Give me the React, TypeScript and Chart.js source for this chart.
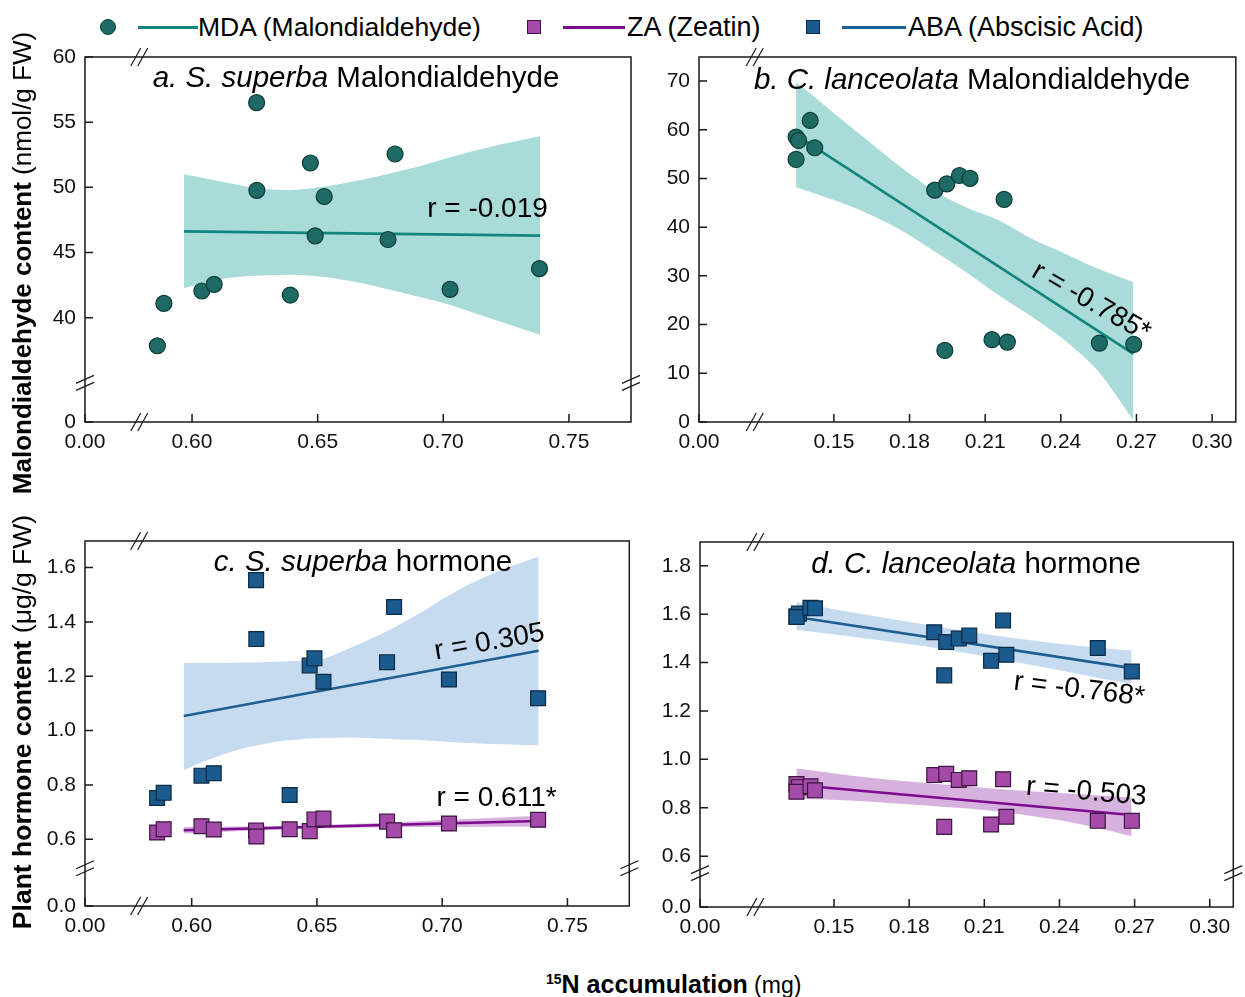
import React, { useEffect, useRef } from 'react';
import { Chart, registerables } from 'chart.js';
Chart.register(...registerables);

const FONT = "'Liberation Sans', Arial, Helvetica, sans-serif";

// ---------------- data ----------------
// S. superba: 15N accumulation (mg) and responses
const ssN15 = [0.5862, 0.5888, 0.6039, 0.6088, 0.6257, 0.6258, 0.6391, 0.6471, 0.649, 0.6526, 0.678, 0.6808, 0.7027, 0.7383];
const ssMDA = [37.85, 41.1, 42.05, 42.56, 56.5, 49.77, 41.74, 51.87, 46.28, 49.3, 46.0, 52.56, 42.18, 43.77];
const ssABA = [0.752, 0.771, 0.834, 0.843, 1.554, 1.337, 0.763, 1.24, 1.266, 1.18, 1.252, 1.455, 1.188, 1.119];
const ssZA = [0.625, 0.637, 0.648, 0.636, 0.632, 0.61, 0.637, 0.63, 0.673, 0.676, 0.665, 0.633, 0.658, 0.672];

// C. lanceolata
const clN15 = [0.135, 0.136, 0.135, 0.1406, 0.1424, 0.19, 0.1948, 0.1998, 0.204, 0.2175, 0.194, 0.2127, 0.2188, 0.2553, 0.2689];
const clMDA = [58.5, 57.8, 53.9, 61.9, 56.3, 47.6, 48.9, 50.6, 50.0, 45.7, 14.7, 16.9, 16.4, 16.2, 15.95];
const clABA = [1.591, 1.602, 1.588, 1.626, 1.624, 1.525, 1.485, 1.499, 1.512, 1.574, 1.347, 1.407, 1.432, 1.46, 1.363];
const clZA = [0.898, 0.885, 0.866, 0.889, 0.872, 0.935, 0.94, 0.915, 0.922, 0.918, 0.721, 0.731, 0.763, 0.746, 0.746];

// fitted lines
const ssMDAFitX = [0.5968, 0.7385];
const ssMDAFitY = [46.62, 46.3];
const clMDAFitX = [0.135, 0.2688];
const clMDAFitY = [58.9, 14.0];
const ssABAFitX = [0.5968, 0.7385];
const ssABAFitY = [1.054, 1.294];
const ssZAFitX = [0.5968, 0.7385];
const ssZAFitY = [0.633, 0.667];
const clABAFitX = [0.135, 0.2688];
const clABAFitY = [1.588, 1.377];
const clZAFitX = [0.135, 0.2688];
const clZAFitY = [0.894, 0.77];

// confidence bands
const ssMDABandX = [0.5968, 0.613, 0.6293, 0.639, 0.6536, 0.6699, 0.6861, 0.7024, 0.7186, 0.7385];
const ssMDABandHi = [51.0, 50.4, 49.85, 49.8, 50.08, 50.67, 51.4, 52.3, 53.1, 53.92];
const ssMDABandLo = [42.28, 43.0, 43.25, 43.3, 43.1, 42.55, 41.8, 41.0, 39.95, 38.7];

const clMDABandX = [0.135, 0.1503, 0.1634, 0.1764, 0.1894, 0.2024, 0.2154, 0.2285, 0.2415, 0.2545, 0.2688];
const clMDABandHi = [69.8, 63.3, 57.8, 52.4, 47.6, 44.1, 41.4, 37.6, 34.6, 31.5, 28.7];
const clMDABandLo = [48.2, 45.5, 42.8, 39.4, 35.2, 30.8, 26.0, 21.6, 16.8, 10.6, 0.3];

const ssABABandX = [0.5968, 0.6045, 0.6178, 0.6244, 0.6311, 0.6443, 0.6496, 0.6642, 0.6775, 0.6908, 0.704, 0.7173, 0.7306, 0.7385];
const ssABABandHi = [1.249, 1.249, 1.25, 1.251, 1.253, 1.257, 1.259, 1.308, 1.364, 1.431, 1.505, 1.566, 1.615, 1.64];
const ssABABandLo = [0.854, 0.885, 0.928, 0.942, 0.955, 0.969, 0.972, 0.975, 0.97, 0.965, 0.957, 0.952, 0.948, 0.946];

const ssZABandX = [0.5968, 0.62, 0.64, 0.66, 0.68, 0.7, 0.7385];
const ssZABandHi = [0.645, 0.647, 0.65, 0.655, 0.662, 0.671, 0.687];
const ssZABandLo = [0.621, 0.63, 0.637, 0.641, 0.644, 0.645, 0.647];

const clABABandX = [0.135, 0.1634, 0.1894, 0.2154, 0.2415, 0.2545, 0.2688];
const clABABandHi = [1.649, 1.596, 1.552, 1.51, 1.476, 1.462, 1.45];
const clABABandLo = [1.535, 1.498, 1.462, 1.416, 1.365, 1.338, 1.312];

const clZABandX = [0.135, 0.1634, 0.1894, 0.2154, 0.2415, 0.2545, 0.2688];
const clZABandHi = [0.962, 0.925, 0.9, 0.878, 0.86, 0.852, 0.842];
const clZABandLo = [0.838, 0.826, 0.807, 0.785, 0.746, 0.718, 0.682];

// tick labels
const ssXTicks = [0, 0.6, 0.65, 0.7, 0.75];
const ssXLabels = ['0.00', '0.60', '0.65', '0.70', '0.75'];
const clXTicks = [0, 0.15, 0.18, 0.21, 0.24, 0.27, 0.3];
const clXLabels = ['0.00', '0.15', '0.18', '0.21', '0.24', '0.27', '0.30'];
const aYTicks = [0, 40, 45, 50, 55, 60];
const aYLabels = ['0', '40', '45', '50', '55', '60'];
const bYTicks = [0, 10, 20, 30, 40, 50, 60, 70];
const bYLabels = ['0', '10', '20', '30', '40', '50', '60', '70'];
const cYTicks = [0, 0.6, 0.8, 1.0, 1.2, 1.4, 1.6];
const cYLabels = ['0.0', '0.6', '0.8', '1.0', '1.2', '1.4', '1.6'];
const dYTicks = [0, 0.6, 0.8, 1.0, 1.2, 1.4, 1.6, 1.8];
const dYLabels = ['0.0', '0.6', '0.8', '1.0', '1.2', '1.4', '1.6', '1.8'];

// ---------------- styles ----------------
const STYLE: any = {
  MDA: { pointStyle: 'circle', r: 8, fill: '#1d6b64', edge: '#0c3b37', line: '#12857f', band: '#a9dcd9' },
  ABA: { pointStyle: 'rect', r: 10.5, fill: '#1b5a8c', edge: '#0b2a45', line: '#1d5f92', band: '#c6daf0' },
  ZA: { pointStyle: 'rect', r: 10.5, fill: '#a44ba9', edge: '#3b1540', line: '#7c0b8d', band: '#d8b2df' },
};

// broken axis: values above the break are shifted down by `shift`
const fx = (ax: any, v: number) => (v === 0 ? 0 : v - ax.shift);

const YW = 60;
const XH = 44;
const TOPPAD = 14;

function Panel({ cfg }: { cfg: any }) {
  const ref = useRef<HTMLCanvasElement>(null);
  const { area, rightPad } = cfg;
  const W = area.r - area.l + YW + rightPad;
  const H = area.b - area.t + TOPPAD + XH;

  useEffect(() => {
    const ax = cfg.xAxis;
    const ay = cfg.yAxis;
    const pts = (xs: number[], ys: number[]) => xs.map((x, i) => ({ x: fx(ax, x), y: fx(ay, ys[i]) }));
    const datasets: any[] = [];
    cfg.series.forEach((s: any) => {
      const st = STYLE[s.kind];
      datasets.push({
        data: pts(s.x, s.y),
        showLine: false,
        pointStyle: st.pointStyle,
        pointRadius: st.r,
        pointBackgroundColor: st.fill,
        pointBorderColor: st.edge,
        pointBorderWidth: 1.2,
      });
    });
    cfg.series.forEach((s: any) => {
      const st = STYLE[s.kind];
      datasets.push({
        data: pts(s.fitX, s.fitY),
        borderColor: st.line,
        borderWidth: 2.6,
        pointRadius: 0,
        tension: 0,
        fill: false,
      });
    });
    cfg.series.forEach((s: any) => {
      const st = STYLE[s.kind];
      datasets.push({
        data: pts(s.bandX, s.bandHi),
        borderWidth: 0,
        borderColor: 'rgba(0,0,0,0)',
        pointRadius: 0,
        cubicInterpolationMode: 'monotone',
        backgroundColor: st.band,
        fill: '+1',
      });
      datasets.push({
        data: pts(s.bandX, s.bandLo),
        borderWidth: 0,
        borderColor: 'rgba(0,0,0,0)',
        pointRadius: 0,
        cubicInterpolationMode: 'monotone',
        fill: false,
      });
    });

    const decor = {
      id: 'decor',
      afterDatasetsDraw(chart: any) {
        const ctx = chart.ctx;
        const ca = chart.chartArea;
        const xs = chart.scales.x;
        const ys = chart.scales.y;
        ctx.save();
        // inner ticks
        ctx.strokeStyle = '#1a1a1a';
        ctx.lineWidth = 1.5;
        ctx.beginPath();
        xs.ticks.forEach((t: any) => {
          const p = xs.getPixelForValue(t.value);
          ctx.moveTo(p, ca.bottom);
          ctx.lineTo(p, ca.bottom - 8);
        });
        ys.ticks.forEach((t: any) => {
          const p = ys.getPixelForValue(t.value);
          ctx.moveTo(ca.left, p);
          ctx.lineTo(ca.left + 8, p);
        });
        ctx.stroke();
        // frame
        ctx.strokeRect(ca.left, ca.top, ca.right - ca.left, ca.bottom - ca.top);
        // break marks
        ctx.lineWidth = 1.2;
        ctx.beginPath();
        if (ax.brk !== undefined) {
          const bx = xs.getPixelForValue(fx(ax, ax.brk));
          [ca.bottom, ca.top].forEach((yy: number) => {
            [-3.5, 3.5].forEach((d) => {
              ctx.moveTo(bx + d - 5, yy + 9);
              ctx.lineTo(bx + d + 5, yy - 9);
            });
          });
        }
        if (ay.brk !== undefined) {
          const by = ys.getPixelForValue(fx(ay, ay.brk));
          [ca.left, ca.right].forEach((xx: number) => {
            [-3.5, 3.5].forEach((d) => {
              ctx.moveTo(xx - 9, by + d + 4);
              ctx.lineTo(xx + 9, by + d - 4);
            });
          });
        }
        ctx.stroke();
        // r annotations
        ctx.fillStyle = '#000';
        ctx.font = `28px ${FONT}`;
        ctx.textAlign = 'center';
        ctx.textBaseline = 'middle';
        cfg.notes.forEach((n: any) => {
          ctx.save();
          ctx.translate(xs.getPixelForValue(fx(ax, n.x)), ys.getPixelForValue(fx(ay, n.y)));
          ctx.rotate((n.rot * Math.PI) / 180);
          ctx.fillText(n.text, 0, 0);
          ctx.restore();
        });
        ctx.restore();
      },
    };

    const tickFont = { family: FONT, size: 21 };
    const chart = new Chart(ref.current as HTMLCanvasElement, {
      type: 'line',
      data: { datasets },
      options: {
        animation: false,
        responsive: false,
        maintainAspectRatio: false,
        devicePixelRatio: 1,
        layout: { padding: { top: TOPPAD, right: rightPad, left: 0, bottom: 0 } },
        plugins: { legend: { display: false }, tooltip: { enabled: false }, title: { display: false } },
        scales: {
          x: {
            type: 'linear',
            min: 0,
            max: fx(ax, ax.max),
            afterBuildTicks: (s: any) => {
              s.ticks = ax.ticks.map((v: number) => ({ value: fx(ax, v) }));
            },
            afterFit: (s: any) => {
              s.height = XH;
              s.paddingLeft = 0;
              s.paddingRight = 0;
              s.paddingTop = 0;
              s.paddingBottom = 0;
            },
            ticks: {
              callback: (_v: any, i: number) => ax.labels[i],
              font: tickFont,
              color: '#111',
              padding: 8,
              maxRotation: 0,
              minRotation: 0,
              autoSkip: false,
            },
            grid: { display: false, drawTicks: false },
            border: { display: false },
          },
          y: {
            type: 'linear',
            min: 0,
            max: fx(ay, ay.max),
            afterBuildTicks: (s: any) => {
              s.ticks = ay.ticks.map((v: number) => ({ value: fx(ay, v) }));
            },
            afterFit: (s: any) => {
              s.width = YW;
              s.paddingLeft = 0;
              s.paddingRight = 0;
              s.paddingTop = 0;
              s.paddingBottom = 0;
            },
            ticks: {
              callback: (_v: any, i: number) => ay.labels[i],
              font: tickFont,
              color: '#111',
              padding: 9,
              autoSkip: false,
            },
            grid: { display: false, drawTicks: false },
            border: { display: false },
          },
        },
      },
      plugins: [decor],
    } as any);
    return () => chart.destroy();
  }, [cfg]);

  return (
    <canvas
      ref={ref}
      width={W}
      height={H}
      style={{ position: 'absolute', left: area.l - YW, top: area.t - TOPPAD, width: W, height: H }}
    />
  );
}

const ssXAxis = { shift: 0.5574, max: 0.7747, ticks: ssXTicks, labels: ssXLabels, brk: 0.579 };
const clXAxis = { shift: 0.0965, max: 0.3094, ticks: clXTicks, labels: clXLabels, brk: 0.1186 };

const panels = [
  {
    area: { l: 85, t: 57, r: 631, b: 422 },
    rightPad: 10,
    xAxis: ssXAxis,
    yAxis: { shift: 32, max: 60, ticks: aYTicks, labels: aYLabels, brk: 35 },
    series: [{ kind: 'MDA', x: ssN15, y: ssMDA, fitX: ssMDAFitX, fitY: ssMDAFitY, bandX: ssMDABandX, bandHi: ssMDABandHi, bandLo: ssMDABandLo }],
    notes: [{ x: 0.7176, y: 48.28, text: 'r = -0.019', rot: 0 }],
  },
  {
    area: { l: 699, t: 57, r: 1244, b: 422 },
    rightPad: 1,
    xAxis: clXAxis,
    yAxis: { shift: 0, max: 74.93, ticks: bYTicks, labels: bYLabels },
    series: [{ kind: 'MDA', x: clN15, y: clMDA, fitX: clMDAFitX, fitY: clMDAFitY, bandX: clMDABandX, bandHi: clMDABandHi, bandLo: clMDABandLo }],
    notes: [{ x: 0.252, y: 24.6, text: 'r = -0.785*', rot: 30 }],
  },
  {
    area: { l: 85, t: 541, r: 631, b: 906 },
    rightPad: 10,
    xAxis: ssXAxis,
    yAxis: { shift: 0.3543, max: 1.698, ticks: cYTicks, labels: cYLabels, brk: 0.493 },
    series: [
      { kind: 'ABA', x: ssN15, y: ssABA, fitX: ssABAFitX, fitY: ssABAFitY, bandX: ssABABandX, bandHi: ssABABandHi, bandLo: ssABABandLo },
      { kind: 'ZA', x: ssN15, y: ssZA, fitX: ssZAFitX, fitY: ssZAFitY, bandX: ssZABandX, bandHi: ssZABandHi, bandLo: ssZABandLo },
    ],
    notes: [
      { x: 0.7189, y: 1.325, text: 'r = 0.305', rot: -10 },
      { x: 0.7217, y: 0.751, text: 'r = 0.611*', rot: 0 },
    ],
  },
  {
    area: { l: 700, t: 542, r: 1244, b: 907 },
    rightPad: 1,
    xAxis: clXAxis,
    yAxis: { shift: 0.39, max: 1.898, ticks: dYTicks, labels: dYLabels, brk: 0.53 },
    series: [
      { kind: 'ABA', x: clN15, y: clABA, fitX: clABAFitX, fitY: clABAFitY, bandX: clABABandX, bandHi: clABABandHi, bandLo: clABABandLo },
      { kind: 'ZA', x: clN15, y: clZA, fitX: clZAFitX, fitY: clZAFitY, bandX: clZABandX, bandHi: clZABandHi, bandLo: clZABandLo },
    ],
    notes: [
      { x: 0.2479, y: 1.287, text: 'r = -0.768*', rot: 7 },
      { x: 0.2507, y: 0.865, text: 'r = -0.503', rot: 5 },
    ],
  },
];

const titles = [
  { cx: 356, cy: 77, it: 'a. S. superba', rest: ' Malondialdehyde' },
  { cx: 972, cy: 79, it: 'b. C. lanceolata', rest: ' Malondialdehyde' },
  { cx: 363, cy: 561, it: 'c. S. superba', rest: ' hormone' },
  { cx: 976, cy: 563, it: 'd. C. lanceolata', rest: ' hormone' },
];

const abs = (o: any) => ({ position: 'absolute' as const, ...o });

export default function App() {
  return (
    <div style={{ position: 'fixed', left: 0, top: 0, width: 1245, height: 997, overflow: 'hidden', background: '#fff', fontFamily: FONT, color: '#000' }}>
      {panels.map((p, i) => (
        <Panel key={i} cfg={p} />
      ))}

      {titles.map((t, i) => (
        <div key={i} style={abs({ left: t.cx, top: t.cy, transform: 'translate(-50%,-50%)', fontSize: 29.5, lineHeight: 1, whiteSpace: 'nowrap' })}>
          <i>{t.it}</i>
          {t.rest}
        </div>
      ))}

      {/* legend */}
      <div style={abs({ left: 100, top: 19, width: 16, height: 16, borderRadius: '50%', background: STYLE.MDA.fill, border: `1px solid ${STYLE.MDA.edge}`, boxSizing: 'border-box' })} />
      <div style={abs({ left: 138, top: 26, width: 60, height: 2.5, background: STYLE.MDA.line })} />
      <div style={abs({ left: 198, top: 27, transform: 'translateY(-50%)', fontSize: 26.5, lineHeight: 1, whiteSpace: 'nowrap' })}>MDA (Malondialdehyde)</div>

      <div style={abs({ left: 527, top: 20, width: 14, height: 14, background: STYLE.ZA.fill, border: `1px solid ${STYLE.ZA.edge}`, boxSizing: 'border-box' })} />
      <div style={abs({ left: 563, top: 26, width: 62, height: 2.5, background: STYLE.ZA.line })} />
      <div style={abs({ left: 627, top: 27, transform: 'translateY(-50%)', fontSize: 27, lineHeight: 1, whiteSpace: 'nowrap' })}>ZA (Zeatin)</div>

      <div style={abs({ left: 806, top: 20, width: 14, height: 14, background: STYLE.ABA.fill, border: `1px solid ${STYLE.ABA.edge}`, boxSizing: 'border-box' })} />
      <div style={abs({ left: 842, top: 26, width: 64, height: 2.5, background: STYLE.ABA.line })} />
      <div style={abs({ left: 908, top: 27, transform: 'translateY(-50%)', fontSize: 27, lineHeight: 1, whiteSpace: 'nowrap' })}>ABA (Abscisic Acid)</div>

      {/* y axis titles */}
      <div style={abs({ left: 22, top: 263, transform: 'translate(-50%,-50%) rotate(-90deg)', fontSize: 26, lineHeight: 1, whiteSpace: 'nowrap' })}>
        <b>Malondialdehyde content</b> (nmol/g FW)
      </div>
      <div style={abs({ left: 22, top: 722, transform: 'translate(-50%,-50%) rotate(-90deg)', fontSize: 26.5, lineHeight: 1, whiteSpace: 'nowrap' })}>
        <b>Plant hormone content</b> (μg/g FW)
      </div>

      {/* x axis title */}
      <div style={abs({ left: 546, top: 984, transform: 'translateY(-50%)', fontSize: 25, lineHeight: 1, whiteSpace: 'nowrap' })}>
        <b>
          <span style={{ fontSize: 14, position: 'relative', top: -9 }}>15</span>N accumulation
        </b>
        <span style={{ fontSize: 23 }}> (mg)</span>
      </div>
    </div>
  );
}
